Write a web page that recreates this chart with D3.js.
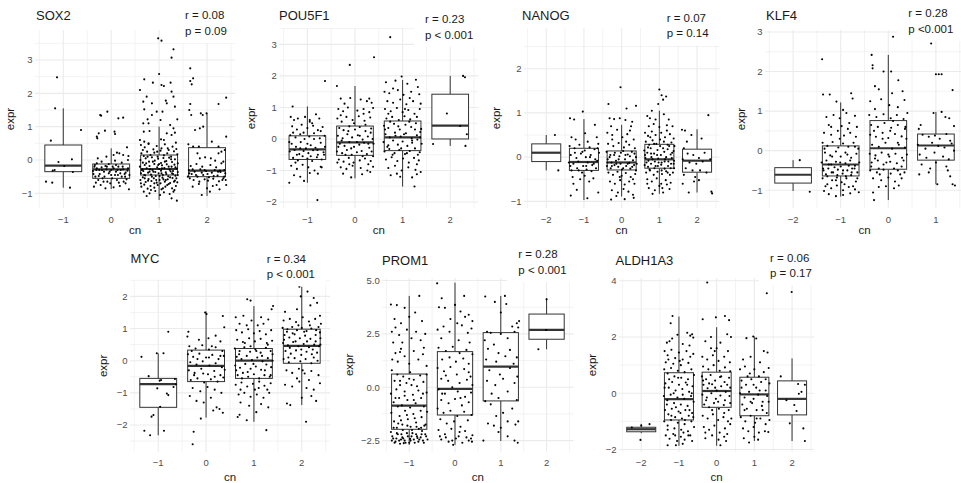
<!DOCTYPE html>
<html>
<head>
<meta charset="utf-8">
<script src="https://cdn.jsdelivr.net/npm/d3@7"></script>
<style>
body{margin:0;background:#fff}
svg{display:block;font-family:"Liberation Sans",Arial,Helvetica,sans-serif}
</style>
</head>
<body>
<svg id="chart" width="961" height="483"></svg>
<script>
// ---- data ----
let genes = ['SOX2','POU5F1','NANOG','KLF4','MYC','PROM1','ALDH1A3'];
let rTexts = ['r = 0.08','r = 0.23','r = 0.07','r = 0.28','r = 0.34','r = 0.28','r = 0.06'];
let pTexts = ['p = 0.09','p < 0.001','p = 0.14','p <0.001','p < 0.001','p < 0.001','p = 0.17'];
let cnLevels = [[-1,0,1,2],[-1,0,1,2],[-2,-1,0,1,2],[-2,-1,0,1],[-1,0,1,2],[-1,0,1,2],[-2,-1,0,1,2]];
let cnLabels = [['−1','0','1','2'],['−1','0','1','2'],['−2','−1','0','1','2'],['−2','−1','0','1'],['−1','0','1','2'],['−1','0','1','2'],['−2','−1','0','1','2']];
let yTickValues = [[-1,0,1,2,3],[-2,-1,0,1,2,3],[-1,0,1,2],[-1,0,1,2,3],[-2,-1,0,1,2],[-2.5,0,2.5,5],[-2,0,2,4]];
let yTickLabels = [['−1','0','1','2','3'],['−2','−1','0','1','2','3'],['−1','0','1','2'],['−1','0','1','2','3'],['−2','−1','0','1','2'],['−2.5','0.0','2.5','5.0'],['−2','0','2','4']];

// boxes: [cn, lower whisker, q1, median, q3, upper whisker]
let sox2Boxes = [[-1,-0.83,-0.35,-0.17,0.45,1.55],[0,-0.87,-0.55,-0.28,-0.12,0.35],[1,-1.2,-0.45,-0.27,0.15,1.0],[2,-1.08,-0.5,-0.32,0.37,1.4]];
let pou5f1Boxes = [[-1,-1.39,-0.65,-0.33,0.1,1.03],[0,-1.25,-0.52,-0.11,0.41,1.68],[1,-1.51,-0.37,0.05,0.57,1.87],[2,-0.22,0.0,0.42,1.42,2.0]];
let nanogBoxes = [[-2,-0.3,-0.1,0.1,0.3,0.5],[-1,-0.97,-0.3,-0.11,0.2,0.86],[0,-0.89,-0.29,-0.12,0.14,0.73],[1,-0.83,-0.25,-0.05,0.29,1.05],[2,-0.8,-0.34,-0.08,0.18,0.63]];
let klf4Boxes = [[-2,-1.02,-0.82,-0.61,-0.43,-0.24],[-1,-1.16,-0.64,-0.35,0.12,1.22],[0,-1.25,-0.47,0.06,0.76,2.42],[1,-0.85,-0.24,0.13,0.42,0.98]];
let mycBoxes = [[-1,-2.32,-1.45,-0.73,-0.55,0.23],[0,-1.77,-0.65,-0.16,0.33,1.53],[1,-1.9,-0.55,0.0,0.38,1.7],[2,-1.38,-0.08,0.46,0.98,2.3]];
let prom1Boxes = [[-1,-2.7,-1.97,-0.86,0.62,4.28],[0,-2.7,-1.3,-0.08,1.67,4.9],[1,-2.52,-0.64,0.97,2.56,4.28],[2,1.78,2.25,2.69,3.43,4.17]];
let aldhBoxes = [[-2,-1.42,-1.37,-1.28,-1.21,-1.09],[-1,-1.87,-0.95,-0.21,0.73,2.73],[0,-1.87,-0.5,0.08,0.75,2.35],[1,-1.7,-0.8,-0.04,0.57,2.02],[2,-1.7,-0.77,-0.2,0.44,1.24]];

// jittered points: [cn + jitter, expr]
let sox2Points = [
[-1.13,2.48],[-1.17,1.55],[-1.26,0.58],[-0.63,0.9],[-1.1,-0.06],[-0.98,-0.18],[-1.22,-0.32],[-0.82,0.02],[-0.8,-0.36],[-1.36,-0.65],[-1.23,-0.68],[-0.86,-0.83],[-1.18,-0.3],
[-0.08,1.45],[-0.23,1.35],[-0.21,1.33],[0.15,1.25],[0.25,1.27],[-0.13,0.88],[-0.26,0.8],[0.07,0.85],[-0.3,0.7],[-0.29,0.65],[0.08,0.78],[0.33,0.38],[0.12,0.22],[0.17,0.2],[0.05,0.15],
[-0.35,-0.2],[-0.3,-0.25],[-0.25,-0.3],[-0.2,-0.22],[-0.15,-0.35],[-0.1,-0.28],[-0.05,-0.4],[0,-0.3],[0.05,-0.25],[0.1,-0.35],[0.15,-0.2],[0.2,-0.3],[0.25,-0.28],[0.3,-0.38],[0.35,-0.25],
[-0.33,-0.5],[-0.27,-0.6],[-0.18,-0.55],[-0.08,-0.65],[0.02,-0.55],[0.12,-0.6],[0.22,-0.5],[0.32,-0.58],
[-0.36,-0.8],[-0.22,-0.75],[-0.12,-0.85],[0.05,-0.82],[0.18,-0.78],[0.3,-0.7],[0.37,-0.88],
[-0.3,-0.1],[-0.2,-0.05],[-0.05,-0.12],[0.08,-0.02],[0.22,-0.08],[0.35,0.0],[-0.28,0.05],[-0.1,0.1],[0.25,0.15],[0.36,0.12],
[-0.38,-0.33],[-0.12,-0.18],[0.0,-0.45],[0.28,-0.42],[-0.24,-0.42],[0.14,-0.45],[-0.02,-0.7],[0.26,-0.65],[-0.32,-0.68],[0.1,-0.15],
[-0.37,-0.42],[-0.31,-0.3],[-0.26,-0.48],[-0.19,-0.3],[-0.14,-0.5],[-0.09,-0.2],[-0.03,-0.35],[0.03,-0.2],[0.08,-0.45],[0.13,-0.3],[0.19,-0.4],[0.24,-0.2],[0.29,-0.5],[0.34,-0.32],[0.38,-0.45],[-0.16,-0.65],[0.16,-0.68],[-0.34,-0.15],
[0.98,3.65],[1.05,3.58],[1.3,3.32],[1.26,3.07],[1.0,2.58],[0.69,2.42],[0.87,2.32],[1.05,2.25],[1.1,2.22],[1.24,2.32],[0.6,2.1],[1.26,2.05],[1.3,1.9],[0.74,1.9],[0.67,1.75],[1.14,1.78],[1.16,1.7],[0.85,1.7],[1.33,1.6],[0.69,1.52],[0.95,1.45],[1.07,1.45],[0.85,1.35],[1.38,1.22],[0.76,1.22],[1.03,1.2],[0.67,1.1],[0.78,1.1],[1.23,1.05],[1.3,0.95],[1.33,0.82],[0.68,0.85],[0.8,0.87],[1.16,0.8],[1.26,0.75],[0.6,0.6],[0.69,0.55],[0.78,0.5],[1.04,0.62],[1.1,0.6],[1.35,0.52],
[0.62,0.45],[0.7,0.38],[0.78,0.48],[0.88,0.32],[0.95,0.42],[1.05,0.35],[1.12,0.47],[1.2,0.3],[1.28,0.4],[1.36,0.33],
[0.63,0.2],[0.68,0.12],[0.75,0.25],[0.82,0.15],[0.9,0.22],[0.97,0.1],[1.03,0.28],[1.1,0.14],[1.17,0.2],[1.25,0.1],[1.31,0.26],[1.38,0.17],
[0.61,0.0],[0.66,-0.08],[0.72,0.05],[0.79,-0.05],[0.85,0.08],[0.91,-0.02],[0.98,0.04],[1.04,-0.09],[1.09,0.06],[1.15,-0.03],[1.21,0.07],[1.27,-0.06],[1.33,0.02],[1.39,-0.1],
[0.6,-0.2],[0.65,-0.28],[0.7,-0.15],[0.74,-0.25],[0.8,-0.18],[0.86,-0.3],[0.9,-0.12],[0.96,-0.22],[1.0,-0.27],[1.06,-0.16],[1.11,-0.24],[1.16,-0.13],[1.22,-0.29],[1.26,-0.2],[1.32,-0.14],[1.37,-0.26],
[0.62,-0.4],[0.67,-0.33],[0.71,-0.46],[0.77,-0.38],[0.83,-0.44],[0.88,-0.35],[0.93,-0.48],[0.99,-0.4],[1.04,-0.32],[1.08,-0.45],[1.14,-0.37],[1.19,-0.49],[1.24,-0.34],[1.29,-0.42],[1.34,-0.47],[1.39,-0.36],
[0.61,-0.6],[0.66,-0.52],[0.72,-0.66],[0.78,-0.57],[0.84,-0.63],[0.89,-0.55],[0.95,-0.68],[1.01,-0.6],[1.07,-0.53],[1.12,-0.65],[1.18,-0.58],[1.23,-0.69],[1.28,-0.54],[1.33,-0.62],[1.38,-0.67],
[0.63,-0.8],[0.69,-0.74],[0.76,-0.86],[0.82,-0.78],[0.9,-0.83],[0.97,-0.75],[1.05,-0.88],[1.13,-0.8],[1.2,-0.72],[1.27,-0.85],[1.35,-0.78],
[0.68,-0.95],[0.8,-1.0],[0.92,-0.93],[1.02,-1.05],[1.1,-0.97],[1.22,-1.02],[1.3,-0.95],[1.37,-1.22],[1.26,-1.15],[0.74,-1.08],
[0.64,-0.3],[0.69,-0.45],[0.73,-0.1],[0.77,-0.62],[0.81,-0.28],[0.85,-0.5],[0.87,-0.05],[0.92,-0.36],[0.94,-0.6],[0.98,-0.15],[1.01,-0.48],[1.03,-0.7],[1.06,-0.25],[1.09,-0.58],[1.12,-0.05],[1.15,-0.42],[1.17,-0.75],[1.2,-0.2],[1.23,-0.52],[1.25,0.02],[1.29,-0.33],[1.31,-0.65],[1.34,-0.22],[1.36,-0.55],[1.39,-0.45],[0.62,-0.7],[0.7,-0.55],[0.76,0.1],[0.83,-0.9],[0.96,0.25],[1.08,-0.85],[1.18,0.35],[1.32,-0.9],[0.66,0.3],[1.0,-0.12],[0.9,-0.7],[1.14,-0.6],[1.27,-0.4],[0.8,-0.35],[1.05,-0.4],
[1.65,2.75],[1.71,2.45],[1.68,2.27],[1.65,2.37],[2.4,1.87],[1.65,1.68],[1.63,1.5],[1.67,1.35],[1.87,1.4],[1.91,1.35],[2.24,1.68],[1.99,1.4],[1.85,0.95],[1.75,0.9],[1.92,1.0],[1.61,0.47],[1.71,0.4],[1.83,0.4],[2.4,0.7],[2.24,0.4],[2.37,0.3],[1.96,0.08],[2.08,0.05],[1.85,0.05],[2.17,-0.02],[2.34,-0.05],[2.24,0.2],
[1.89,-1.05],[2.06,-0.95],[2.2,-0.75],[2.4,-0.75],[2.39,-0.6],
[1.62,-0.3],[1.68,-0.42],[1.74,-0.35],[1.8,-0.5],[1.86,-0.28],[1.92,-0.45],[1.98,-0.33],[2.04,-0.52],[2.1,-0.38],[2.16,-0.3],[2.22,-0.47],[2.28,-0.36],[2.34,-0.55],[2.38,-0.4],
[1.64,-0.55],[1.72,-0.6],[1.84,-0.65],[1.95,-0.58],[2.02,-0.62],[2.13,-0.56],[2.25,-0.64],[2.32,-0.6],
[1.66,-0.18],[1.78,-0.12],[1.9,-0.2],[2.07,-0.15],[2.19,-0.22],[2.3,-0.1],[1.7,-0.8],[1.83,-0.72],[2.0,-0.85],[2.12,-0.78],[2.26,-0.88],[1.6,-0.5],[2.36,-0.3],
[1.63,-0.4],[1.77,-0.45],[1.89,-0.38],[2.01,-0.42],[2.14,-0.48],[2.27,-0.32],[2.36,-0.5],[1.7,-0.28],[1.95,-0.3],[2.23,-0.35],[1.8,0.2],[2.1,0.55],[2.3,0.25]
];

let pou5f1Points = [
[-0.63,1.84],[-1.31,1.03],[-0.79,-1.94],[-1.38,-1.39],[-1.07,-1.33],
[-1.35,0.7],[-1.28,0.6],[-1.2,0.65],[-1.05,0.7],[-0.95,0.6],[-0.82,0.78],[-0.75,0.65],[-0.9,0.5],
[-1.32,0.4],[-1.22,0.3],[-1.12,0.45],[-1.0,0.35],[-0.88,0.42],[-0.78,0.28],[-0.68,0.38],
[-1.36,0.12],[-1.25,0.05],[-1.15,0.15],[-1.06,0.0],[-0.96,0.08],[-0.86,0.18],[-0.74,0.02],[-0.64,0.1],
[-1.33,-0.15],[-1.24,-0.25],[-1.14,-0.1],[-1.03,-0.3],[-0.93,-0.2],[-0.83,-0.28],[-0.72,-0.12],[-0.63,-0.25],
[-1.37,-0.4],[-1.27,-0.35],[-1.17,-0.48],[-1.08,-0.38],[-0.98,-0.45],[-0.88,-0.36],[-0.78,-0.5],[-0.66,-0.42],
[-1.3,-0.6],[-1.2,-0.68],[-1.1,-0.55],[-1.0,-0.62],[-0.9,-0.7],[-0.8,-0.58],[-0.7,-0.65],
[-1.34,-0.85],[-1.22,-0.95],[-1.1,-0.82],[-0.98,-0.9],[-0.85,-1.0],[-0.72,-0.88],
[-1.28,-1.15],[-1.15,-1.2],[-0.95,-1.08],[-0.78,-1.1],
[-1.38,-0.1],[-1.3,0.2],[-1.22,-0.5],[-1.15,-0.3],[-1.08,0.2],[-1.0,-0.15],[-0.93,-0.55],[-0.86,0.0],[-0.79,-0.35],[-0.72,0.25],[-0.65,-0.5],[-1.25,-0.75],[-0.95,0.55],[-0.7,-0.9],
[-0.11,2.35],[0.4,2.59],[-0.38,1.68],[-0.3,1.28],[-0.22,1.12],[-0.1,1.3],[0.12,1.25],[0.25,1.2],[0.35,1.15],[0.3,1.28],
[-0.35,0.95],[-0.25,0.88],[-0.15,1.0],[0.05,0.9],[0.18,0.95],[0.3,0.85],[0.38,0.98],
[-0.37,0.65],[-0.28,0.55],[-0.18,0.7],[-0.05,0.6],[0.08,0.72],[0.2,0.58],[0.32,0.68],
[-0.33,0.35],[-0.24,0.28],[-0.12,0.4],[0.0,0.3],[0.1,0.38],[0.22,0.25],[0.34,0.33],
[-0.36,0.1],[-0.26,0.02],[-0.16,0.15],[-0.06,0.05],[0.06,0.12],[0.16,-0.02],[0.27,0.08],[0.37,0.0],
[-0.32,-0.15],[-0.22,-0.22],[-0.12,-0.1],[-0.02,-0.25],[0.09,-0.18],[0.19,-0.12],[0.3,-0.28],[0.39,-0.15],
[-0.38,-0.4],[-0.27,-0.45],[-0.17,-0.35],[-0.07,-0.5],[0.04,-0.42],[0.14,-0.38],[0.25,-0.48],[0.35,-0.4],
[-0.34,-0.65],[-0.24,-0.72],[-0.13,-0.6],[-0.03,-0.75],[0.1,-0.68],[0.21,-0.62],[0.33,-0.7],
[-0.3,-0.9],[-0.18,-0.95],[-0.05,-0.85],[0.12,-0.92],[0.26,-1.0],[0.38,-0.88],
[-0.25,-1.1],[-0.08,-1.22],[0.15,-1.12],[0.32,-1.05],
[-0.35,-0.25],[-0.28,-0.05],[-0.2,-0.5],[-0.14,0.25],[-0.08,-0.3],[-0.02,0.5],[0.04,-0.1],[0.1,0.1],[0.16,-0.55],[0.22,0.45],[0.28,-0.15],[0.33,0.2],[0.38,-0.55],[-0.3,0.75],[0.18,0.8],[-0.12,-0.8],[0.28,-0.8],[-0.37,-0.75],
[0.74,3.23],[0.98,1.98],[1.28,1.88],[0.65,1.8],[0.85,1.85],[1.1,1.75],[1.32,1.65],
[0.62,1.5],[0.72,1.45],[0.9,1.55],[1.02,1.4],[1.18,1.5],[1.35,1.42],
[0.68,1.2],[0.8,1.15],[0.95,1.25],[1.08,1.1],[1.22,1.2],[1.38,1.12],
[0.63,0.95],[0.75,0.88],[0.88,0.98],[1.0,0.85],[1.12,0.92],[1.25,0.8],[1.36,0.95],
[0.66,0.65],[0.78,0.7],[0.92,0.6],[1.04,0.72],[1.16,0.62],[1.3,0.7],
[0.61,0.42],[0.7,0.35],[0.82,0.48],[0.94,0.3],[1.06,0.45],[1.18,0.38],[1.28,0.5],[1.39,0.32],
[0.64,0.15],[0.73,0.05],[0.84,0.2],[0.96,0.08],[1.07,0.18],[1.19,0.02],[1.3,0.12],[1.37,0.22],
[0.6,-0.1],[0.7,-0.2],[0.8,-0.05],[0.9,-0.18],[1.0,-0.08],[1.1,-0.22],[1.2,-0.12],[1.31,-0.02],[1.4,-0.15],
[0.62,-0.4],[0.72,-0.32],[0.83,-0.45],[0.93,-0.35],[1.05,-0.48],[1.15,-0.38],[1.26,-0.3],[1.36,-0.42],
[0.65,-0.65],[0.77,-0.58],[0.89,-0.7],[1.01,-0.62],[1.13,-0.75],[1.24,-0.6],[1.34,-0.68],
[0.7,-0.92],[0.84,-0.85],[0.98,-1.0],[1.12,-0.9],[1.27,-0.98],[1.38,-1.05],
[0.75,-1.15],[0.95,-1.2],[1.2,-1.22],[1.3,-1.12],[1.25,-1.51],
[0.63,0.3],[0.68,-0.25],[0.74,0.55],[0.79,-0.5],[0.85,0.1],[0.91,0.4],[0.97,-0.3],[1.03,0.15],[1.09,-0.45],[1.14,0.55],[1.2,-0.05],[1.26,0.3],[1.32,-0.5],[1.37,0.05],[0.7,0.8],[1.05,0.95],[1.3,-0.8],[0.88,-1.1],[1.15,1.3],[0.8,1.6],
[2.27,2.0],[2.31,1.96],[1.93,0.81],[2.21,0.41],[2.35,0.15],[1.64,-0.16],[2.32,-0.22]
];

let nanogPoints = [
[-1.77,0.5],[-1.68,-0.3],
[-1.03,1.03],[-1.37,0.88],[-1.26,0.85],[-0.97,0.54],[-0.71,0.73],[-1.33,0.45],[-1.35,-0.87],[-1.19,-0.74],[-0.91,-0.93],[-0.62,-0.8],[-1.28,-0.6],
[-1.38,0.25],[-1.25,0.2],[-1.12,0.28],[-0.98,0.15],[-0.85,0.22],[-0.72,0.18],[-0.62,0.3],
[-1.35,0.05],[-1.2,-0.02],[-1.08,0.08],[-0.95,0.0],[-0.82,0.05],[-0.7,-0.05],[-0.6,0.1],
[-1.4,-0.12],[-1.28,-0.15],[-1.15,-0.1],[-1.02,-0.2],[-0.9,-0.12],[-0.78,-0.18],[-0.65,-0.08],
[-1.33,-0.3],[-1.18,-0.25],[-1.05,-0.35],[-0.93,-0.28],[-0.8,-0.32],[-0.68,-0.25],
[-1.3,-0.45],[-1.1,-0.5],[-0.98,-0.42],[-0.86,-0.55],[-0.75,-0.48],[-1.22,0.4],[-0.9,0.35],[-0.66,0.45],
[-1.36,-0.2],[-1.24,0.1],[-1.14,-0.3],[-1.04,0.12],[-0.94,-0.2],[-0.84,0.0],[-0.74,-0.15],[-0.64,0.2],
[-0.03,1.58],[-0.35,1.2],[0.13,1.1],[0.38,1.16],[-0.32,0.88],[-0.2,0.86],[-0.05,0.88],[0.1,0.84],[0.28,0.8],[0.22,0.6],
[-0.38,0.55],[-0.25,0.5],[-0.12,0.62],[0.02,0.45],[0.15,0.52],[0.32,0.4],
[-0.36,0.3],[-0.22,0.25],[-0.08,0.32],[0.06,0.22],[0.2,0.28],[0.35,0.2],
[-0.4,0.12],[-0.3,0.05],[-0.18,0.1],[-0.06,0.02],[0.04,0.14],[0.16,0.06],[0.27,0.12],[0.38,0.0],
[-0.37,-0.05],[-0.27,-0.12],[-0.15,-0.08],[-0.03,-0.15],[0.09,-0.05],[0.2,-0.13],[0.3,-0.07],[0.4,-0.15],
[-0.39,-0.2],[-0.29,-0.25],[-0.19,-0.18],[-0.09,-0.22],[0.01,-0.28],[0.12,-0.2],[0.23,-0.26],[0.33,-0.18],
[-0.35,-0.35],[-0.23,-0.4],[-0.11,-0.33],[0.0,-0.42],[0.11,-0.36],[0.24,-0.45],[0.36,-0.38],
[-0.31,-0.55],[-0.18,-0.6],[-0.04,-0.52],[0.08,-0.62],[0.2,-0.55],[0.34,-0.6],
[-0.26,-0.75],[-0.1,-0.8],[0.05,-0.72],[0.18,-0.78],[0.3,-0.85],
[-0.28,-0.96],[0.08,-0.95],[0.32,-0.92],[-0.14,-0.88],[0.25,0.7],[-0.28,0.7],
[-0.38,-0.12],[-0.32,0.0],[-0.26,-0.2],[-0.2,0.05],[-0.14,-0.15],[-0.08,-0.05],[-0.02,0.1],[0.04,-0.25],[0.1,0.05],[0.16,-0.15],[0.22,0.02],[0.28,-0.22],[0.34,0.08],[0.38,-0.3],[-0.25,0.4],[0.12,0.35],[-0.05,-0.45],[0.3,-0.5],
[1.0,1.53],[1.06,1.4],[1.1,1.3],[1.18,1.37],[0.97,1.2],[0.8,1.05],[0.68,0.93],[0.75,0.88],[1.12,0.97],[1.25,0.85],[0.72,0.7],[0.85,0.75],[1.0,0.68],[1.2,0.72],[1.35,0.7],
[0.62,0.55],[0.7,0.48],[0.8,0.58],[0.9,0.5],[1.05,0.55],[1.15,0.45],[1.28,0.52],[1.38,0.42],
[0.64,0.35],[0.73,0.28],[0.82,0.38],[0.92,0.3],[1.02,0.25],[1.12,0.35],[1.22,0.28],[1.32,0.33],[1.4,0.25],
[0.6,0.15],[0.68,0.1],[0.77,0.2],[0.86,0.08],[0.95,0.16],[1.04,0.05],[1.13,0.12],[1.22,0.18],[1.3,0.06],[1.38,0.14],
[0.63,-0.02],[0.71,-0.08],[0.79,0.0],[0.88,-0.1],[0.97,-0.03],[1.06,-0.12],[1.15,-0.05],[1.24,-0.1],[1.33,-0.02],[1.39,-0.08],
[0.61,-0.18],[0.7,-0.22],[0.78,-0.15],[0.87,-0.25],[0.96,-0.2],[1.05,-0.17],[1.14,-0.26],[1.23,-0.2],[1.31,-0.15],[1.39,-0.25],
[0.65,-0.35],[0.75,-0.3],[0.85,-0.4],[0.95,-0.33],[1.07,-0.38],[1.18,-0.32],[1.28,-0.4],[1.36,-0.35],
[0.68,-0.5],[0.8,-0.55],[0.93,-0.48],[1.05,-0.6],[1.17,-0.52],[1.3,-0.58],
[0.72,-0.7],[0.88,-0.75],[1.0,-0.65],[1.1,-0.8],[1.27,-0.72],[0.82,-0.83],[1.2,-0.62],
[0.62,0.05],[0.66,-0.12],[0.7,0.22],[0.74,-0.28],[0.78,0.08],[0.82,-0.05],[0.86,0.3],[0.9,-0.2],[0.94,0.05],[0.98,-0.12],[1.02,0.4],[1.06,-0.3],[1.1,0.2],[1.14,-0.1],[1.18,0.0],[1.22,-0.35],[1.26,0.25],[1.3,-0.25],[1.34,0.1],[1.38,-0.15],[0.76,0.45],[1.2,0.6],[0.9,0.85],[1.08,-0.7],[0.68,-0.6],
[1.6,0.62],[1.68,0.6],[2.3,0.95],[1.85,0.5],[2.12,0.42],[1.65,0.2],[1.75,0.08],[1.9,0.05],[2.05,-0.02],[2.2,0.1],[1.62,-0.05],[1.8,-0.12],[1.98,-0.15],[2.15,-0.1],[2.35,-0.05],
[1.7,-0.25],[1.88,-0.3],[2.08,-0.3],[2.25,-0.35],[1.95,-0.45],[1.65,-0.4],[1.92,-0.55],[2.05,-0.52],[1.62,-0.6],[1.78,-0.8],[2.38,-0.78],[2.4,-0.82],[1.73,0.35]
];

let klf4Points = [
[-1.86,-0.24],[-1.65,-1.04],
[-1.39,2.31],[-1.37,1.42],[-1.23,1.42],[-0.78,1.45],[-0.75,1.32],[-1.09,1.24],[-0.95,1.03],
[-1.3,0.85],[-1.15,0.9],[-1.02,0.82],[-0.88,0.95],[-0.7,0.88],[-1.25,0.65],[-0.98,0.62],[-0.82,0.7],[-0.66,0.6],
[-1.35,0.45],[-1.2,0.4],[-1.06,0.5],[-0.93,0.38],[-0.8,0.45],[-0.68,0.35],
[-1.38,0.2],[-1.28,0.12],[-1.17,0.22],[-1.05,0.08],[-0.95,0.18],[-0.84,0.1],[-0.73,0.2],[-0.63,0.05],
[-1.33,-0.05],[-1.22,-0.12],[-1.1,-0.02],[-1.0,-0.15],[-0.9,-0.05],[-0.78,-0.18],[-0.67,-0.08],
[-1.4,-0.3],[-1.3,-0.25],[-1.2,-0.35],[-1.1,-0.28],[-1.0,-0.4],[-0.9,-0.32],[-0.8,-0.25],[-0.7,-0.38],[-0.61,-0.3],
[-1.36,-0.5],[-1.26,-0.45],[-1.16,-0.55],[-1.06,-0.48],[-0.96,-0.58],[-0.86,-0.5],[-0.76,-0.45],[-0.65,-0.55],
[-1.38,-0.7],[-1.28,-0.65],[-1.18,-0.75],[-1.08,-0.68],[-0.98,-0.8],[-0.88,-0.7],[-0.78,-0.62],[-0.68,-0.78],
[-1.32,-0.9],[-1.2,-0.95],[-1.08,-0.88],[-0.95,-1.0],[-0.83,-0.92],[-0.7,-0.98],
[-1.25,-1.1],[-1.1,-1.15],[-0.95,-1.12],[-0.8,-1.08],[-1.35,-1.02],[-0.62,-1.05],
[-1.37,-0.45],[-1.31,-0.6],[-1.25,-0.35],[-1.19,-0.55],[-1.13,-0.42],[-1.07,-0.62],[-1.01,-0.3],[-0.95,-0.5],[-0.89,-0.65],[-0.83,-0.38],[-0.77,-0.55],[-0.71,-0.45],[-0.65,-0.7],[-1.34,0.05],[-1.18,-0.15],[-1.02,0.3],[-0.86,-0.1],[-0.7,0.1],[-1.28,-0.85],[-1.1,-0.75],[-0.92,-0.85],[-0.74,-0.9],[-1.2,0.6],[-0.85,0.55],
[0.1,2.88],[-0.35,2.42],[-0.33,2.16],[-0.33,2.08],[-0.1,2.0],[0.06,2.0],[0.21,1.78],[-0.28,1.63],[-0.2,1.55],[0.3,1.5],[0.08,1.45],
[-0.38,1.25],[-0.15,1.3],[0.34,1.28],[0.02,1.15],[0.2,1.1],[-0.28,1.05],
[-0.4,0.9],[-0.25,0.85],[-0.1,0.92],[0.05,0.82],[0.18,0.9],[0.32,0.8],[0.4,0.95],
[-0.36,0.65],[-0.22,0.6],[-0.08,0.7],[0.06,0.58],[0.2,0.65],[0.35,0.55],
[-0.38,0.4],[-0.26,0.35],[-0.12,0.45],[0.0,0.32],[0.14,0.42],[0.28,0.36],[0.38,0.3],
[-0.34,0.15],[-0.2,0.1],[-0.06,0.2],[0.08,0.05],[0.22,0.15],[0.35,0.08],
[-0.39,-0.08],[-0.27,-0.12],[-0.14,-0.05],[0.02,-0.15],[0.15,-0.08],[0.29,-0.18],[0.39,-0.1],
[-0.35,-0.3],[-0.22,-0.25],[-0.1,-0.35],[0.04,-0.28],[0.18,-0.32],[0.32,-0.25],
[-0.38,-0.5],[-0.24,-0.55],[-0.1,-0.48],[0.05,-0.58],[0.2,-0.5],[0.34,-0.55],
[-0.32,-0.7],[-0.15,-0.75],[0.0,-0.68],[0.14,-0.78],[0.28,-0.7],
[-0.32,-1.06],[-0.3,-1.25],[-0.05,-0.9],[0.12,-0.95],[0.22,-0.88],[-0.2,-0.92],
[-0.36,-0.4],[-0.28,-0.2],[-0.2,-0.45],[-0.12,0.3],[-0.04,-0.3],[0.04,0.5],[0.12,-0.45],[0.2,0.2],[0.28,-0.4],[0.36,0.6],[-0.3,0.5],[0.1,0.75],[-0.18,-0.6],[0.25,-0.6],[0.0,-0.1],
[0.9,2.71],[1.0,1.93],[1.06,1.93],[1.12,1.93],[1.35,1.53],[0.95,0.95],[1.12,0.98],[1.2,0.85],[1.28,0.82],[1.38,0.62],[0.68,0.65],[0.64,0.55],
[0.72,0.4],[0.85,0.35],[0.98,0.38],[1.08,0.3],[1.22,0.42],[1.3,0.25],
[0.62,0.15],[0.78,0.05],[0.92,0.2],[1.05,0.12],[1.18,0.08],[1.33,0.18],[1.38,0.0],
[0.66,-0.1],[0.8,-0.18],[0.97,-0.05],[1.15,-0.15],[1.27,-0.22],
[0.7,-0.35],[0.88,-0.45],[1.0,-0.3],[1.22,-0.4],
[0.65,-0.6],[0.85,-0.55],[1.25,-0.5],[1.3,-0.65],[1.03,-0.85],[1.35,-0.85],[1.4,-0.88]
];

let mycPoints = [
[-0.79,0.9],[-1.35,0.12],[-1.03,0.23],[-0.89,0.23],[-1.2,-0.48],[-0.63,-0.73],[-0.65,-0.57],[-0.94,-0.6],[-1.02,-0.86],[-0.82,-1.02],[-0.79,-1.07],[-0.96,-1.43],[-1.1,-1.69],[-1.14,-1.74],[-1.29,-2.18],[-1.17,-2.32],[-0.88,-2.18],[-0.97,-0.62],[-0.68,-0.82],
[-0.02,1.5],[0.01,1.45],[0.35,1.39],[0.38,1.04],[-0.37,0.9],[-0.39,0.75],[-0.26,-2.21],[-0.28,-2.6],[-0.11,-1.8],[0.15,-1.55],[0.28,-1.5],[0.35,-1.62],[0.22,-1.45],[-0.2,-1.25],
[0.05,0.7],[0.2,0.78],[0.3,0.6],[-0.15,0.65],
[-0.35,0.45],[-0.22,0.38],[-0.08,0.48],[0.06,0.35],[0.2,0.42],[0.34,0.3],
[-0.38,0.2],[-0.27,0.12],[-0.14,0.22],[0.0,0.1],[0.13,0.18],[0.26,0.05],[0.37,0.15],
[-0.33,-0.05],[-0.2,-0.12],[-0.07,-0.02],[0.07,-0.15],[0.2,-0.08],[0.33,-0.2],
[-0.36,-0.3],[-0.24,-0.38],[-0.1,-0.25],[0.04,-0.42],[0.17,-0.32],[0.3,-0.45],[0.39,-0.28],
[-0.32,-0.6],[-0.18,-0.55],[-0.04,-0.68],[0.1,-0.58],[0.24,-0.65],[0.36,-0.52],
[-0.28,-0.85],[-0.12,-0.95],[0.03,-0.82],[0.18,-0.9],[0.32,-1.0],[-0.34,-1.1],[0.1,-1.15],[-0.05,-1.3],
[-0.3,0.3],[-0.18,0.05],[-0.06,-0.4],[0.06,0.1],[0.18,-0.5],[0.3,0.15],[-0.25,-0.45],[0.12,0.45],
[0.86,1.91],[0.93,1.87],[1.4,1.7],[1.37,1.6],[1.26,-2.16],[0.85,-1.85],[0.7,-1.68],[0.66,-1.75],[1.05,-1.6],[1.3,-1.45],
[0.62,1.35],[0.78,1.4],[0.95,1.25],[1.15,1.35],[1.3,1.28],[0.7,1.15],[1.08,1.1],
[0.63,0.95],[0.75,0.88],[0.88,0.98],[1.0,0.85],[1.12,0.92],[1.25,0.82],[1.36,0.95],
[0.65,0.65],[0.77,0.58],[0.9,0.7],[1.02,0.6],[1.14,0.68],[1.27,0.55],[1.38,0.62],
[0.6,0.38],[0.7,0.3],[0.8,0.42],[0.92,0.28],[1.03,0.35],[1.14,0.25],[1.25,0.4],[1.35,0.3],
[0.64,0.12],[0.74,0.05],[0.85,0.15],[0.96,0.02],[1.07,0.1],[1.18,-0.02],[1.29,0.08],[1.39,0.0],
[0.61,-0.15],[0.71,-0.22],[0.82,-0.1],[0.93,-0.25],[1.04,-0.18],[1.15,-0.28],[1.26,-0.12],[1.36,-0.2],
[0.66,-0.45],[0.77,-0.38],[0.88,-0.5],[1.0,-0.42],[1.11,-0.55],[1.22,-0.45],[1.33,-0.5],
[0.62,-0.75],[0.74,-0.68],[0.86,-0.8],[0.98,-0.72],[1.1,-0.85],[1.22,-0.78],[1.35,-0.7],
[0.68,-1.05],[0.8,-1.0],[0.93,-1.12],[1.06,-1.05],[1.2,-1.15],[1.32,-1.0],[0.72,-1.3],[0.9,-1.4],[1.15,-1.35],
[0.63,-0.3],[0.69,0.2],[0.75,-0.55],[0.81,0.55],[0.87,-0.35],[0.93,0.45],[0.99,-0.1],[1.05,0.3],[1.11,-0.65],[1.17,0.15],[1.23,-0.3],[1.29,0.5],[1.35,-0.45],[1.39,0.2],[0.72,-0.9],[1.02,-0.9],[1.28,-0.9],[0.85,1.1],[1.2,1.15],
[1.95,2.3],[2.12,2.15],[2.25,1.95],[2.32,1.8],[1.98,2.0],[1.9,1.6],[2.18,1.72],[1.65,1.52],[2.38,1.4],
[1.62,1.25],[1.75,1.3],[1.88,1.2],[2.02,1.35],[2.15,1.22],[2.28,1.3],[2.4,1.15],
[1.6,1.02],[1.7,0.98],[1.8,1.05],[1.9,0.95],[2.0,1.02],[2.1,0.92],[2.2,1.0],[2.3,0.95],[2.38,0.88],
[1.64,0.8],[1.74,0.72],[1.85,0.82],[1.96,0.7],[2.07,0.78],[2.18,0.68],[2.29,0.8],[2.39,0.7],
[1.61,0.55],[1.71,0.48],[1.82,0.58],[1.93,0.45],[2.04,0.52],[2.15,0.42],[2.26,0.5],[2.36,0.45],
[1.66,0.3],[1.77,0.22],[1.88,0.32],[1.99,0.18],[2.1,0.28],[2.21,0.2],[2.32,0.25],
[1.62,0.05],[1.73,-0.05],[1.85,0.08],[1.97,-0.02],[2.08,0.05],[2.2,-0.08],[2.33,0.0],
[1.68,-0.3],[1.8,-0.38],[1.94,-0.25],[2.06,-0.4],[2.2,-0.32],[2.35,-0.45],
[1.65,-0.75],[1.8,-0.8],[1.95,-0.65],[2.1,-0.85],[2.25,-0.9],[2.38,-0.7],
[1.69,-1.33],[1.76,-1.38],[2.09,-1.9],[2.0,-1.15],[2.2,-1.1],[2.3,-1.25],
[1.63,0.65],[1.69,0.9],[1.75,0.4],[1.81,0.85],[1.87,0.6],[1.93,1.1],[1.99,0.35],[2.05,0.9],[2.11,0.6],[2.17,1.1],[2.23,0.35],[2.29,0.6],[2.35,1.05],[2.39,0.5],[1.72,0.1],[2.02,-0.3],[2.25,0.1],[1.9,-0.55],[2.15,-0.6]
];

let prom1Points = [
[-1.4,3.88],[-1.27,3.85],[-1.1,3.72],[-0.78,4.28],[-1.32,3.2],[-1.18,3.0],[-1.0,3.3],[-0.87,3.5],[-0.72,3.1],
[-1.38,2.6],[-1.3,2.8],[-1.22,2.45],[-1.15,2.1],[-1.05,2.7],[-0.95,2.3],[-0.85,2.6],[-0.75,2.2],[-0.65,2.5],[-1.35,2.1],
[-1.37,1.3],[-1.3,1.6],[-1.25,1.2],[-1.18,1.8],[-1.1,1.45],[-1.0,1.1],[-0.9,1.7],[-0.8,1.3],[-0.7,1.55],[-0.62,1.0],[-1.2,1.65],[-0.68,1.85],
[-1.38,0.8],[-1.32,0.3],[-1.26,0.6],[-1.2,0.1],[-1.13,0.5],[-1.06,0.2],[-0.98,0.7],[-0.9,0.35],[-0.83,0.05],[-0.76,0.55],[-0.69,0.25],[-0.62,0.6],[-1.0,0.4],
[-1.4,-0.3],[-1.34,-0.7],[-1.28,-0.1],[-1.22,-0.5],[-1.16,-0.85],[-1.1,-0.2],[-1.04,-0.6],[-0.98,-0.95],[-0.92,-0.35],[-0.86,-0.75],[-0.8,-0.15],[-0.74,-0.5],[-0.68,-0.9],[-0.62,-0.25],[-1.25,-0.9],
[-1.39,-1.2],[-1.33,-1.6],[-1.27,-1.9],[-1.21,-1.35],[-1.15,-1.75],[-1.09,-1.1],[-1.03,-1.5],[-0.97,-1.85],[-0.91,-1.25],[-0.85,-1.65],[-0.79,-1.95],[-0.73,-1.4],[-0.67,-1.8],[-0.61,-1.15],[-1.18,-1.55],[-0.88,-1.45],
[-1.4,-2.1],[-1.35,-2.4],[-1.3,-2.55],[-1.25,-2.2],[-1.2,-2.65],[-1.15,-2.35],[-1.1,-2.5],[-1.05,-2.15],[-1.0,-2.6],[-0.95,-2.3],[-0.9,-2.45],[-0.85,-2.2],[-0.8,-2.55],[-0.75,-2.35],[-0.7,-2.5],[-0.65,-2.2],[-0.6,-2.45],[-1.28,-2.4],[-1.12,-2.62],[-0.98,-2.42],[-0.82,-2.38],[-1.38,-2.5],[-1.18,-2.45],[-0.72,-2.05],
[-1.37,-2.3],[-1.32,-2.6],[-1.27,-2.15],[-1.22,-2.5],[-1.17,-2.2],[-1.13,-2.4],[-1.08,-2.6],[-1.03,-2.3],[-0.97,-2.5],[-0.93,-2.15],[-0.88,-2.6],[-0.83,-2.3],[-0.78,-2.45],[-0.73,-2.2],[-0.68,-2.6],[-0.63,-2.3],[-1.34,-1.9],[-1.24,-1.7],[-1.14,-2.0],[-1.04,-1.8],[-0.94,-2.0],[-0.84,-1.85],[-0.74,-1.9],[-0.64,-1.75],[-1.3,-0.5],[-1.1,-0.4],[-0.9,-0.6],[-0.7,-0.3],[-1.2,0.3],[-0.95,0.1],[-0.75,-1.1],[-1.05,-1.3],
[-0.39,4.87],[-0.29,4.17],[0.2,4.28],[0.0,3.86],[-0.35,3.75],[-0.22,3.72],[0.3,3.4],[0.38,3.1],[0.12,3.55],[-0.1,3.2],[0.22,3.3],
[-0.38,2.7],[-0.25,2.85],[-0.12,2.6],[0.05,3.0],[0.15,2.9],[0.28,2.55],[0.36,2.75],[-0.3,2.3],[0.08,2.2],[0.32,2.1],
[-0.36,1.85],[-0.2,1.7],[-0.05,1.9],[0.1,1.6],[0.25,1.75],[0.38,1.55],[-0.28,1.3],[-0.12,1.4],[0.02,1.2],[0.18,1.35],[0.3,1.1],
[-0.38,0.9],[-0.24,0.75],[-0.1,0.95],[0.04,0.6],[0.2,0.85],[0.34,0.5],[-0.3,0.4],[-0.15,0.3],[0.1,0.2],[0.26,0.35],[0.38,0.1],
[-0.36,-0.1],[-0.22,-0.3],[-0.06,0.0],[0.06,-0.2],[0.22,-0.45],[0.35,-0.25],[-0.3,-0.6],[-0.14,-0.75],[0.0,-0.55],[0.15,-0.85],[0.3,-0.7],
[-0.38,-1.0],[-0.25,-1.2],[-0.1,-1.1],[0.05,-1.35],[0.2,-1.15],[0.36,-1.3],[-0.32,-1.5],[-0.18,-1.7],[-0.02,-1.6],[0.12,-1.85],[0.28,-1.55],
[-0.36,-2.0],[-0.22,-2.2],[-0.08,-1.95],[0.08,-2.3],[0.22,-2.05],[0.38,-2.25],[-0.3,-2.45],[-0.14,-2.55],[0.02,-2.4],[0.16,-2.6],[0.3,-2.5],[-0.04,-2.7],[0.35,-2.4],
[-0.33,-2.3],[-0.2,-2.35],[-0.06,-2.5],[0.1,-2.1],[0.25,-2.35],[0.37,-2.55],[-0.28,-0.3],[0.12,-0.5],[-0.2,0.55],[0.3,0.7],
[0.66,4.25],[1.09,4.28],[0.87,4.0],[1.12,3.9],[1.35,3.0],[1.4,3.1],[1.25,2.85],[1.0,3.5],
[0.7,2.6],[0.78,2.55],[1.0,2.5],[1.3,2.6],[1.38,2.8],[0.65,2.2],[0.85,2.0],[1.15,2.3],
[0.72,1.8],[0.95,1.6],[1.2,1.75],[1.35,1.4],[0.68,1.3],[0.9,1.2],[1.1,1.45],[1.28,1.1],
[0.75,0.8],[0.98,0.6],[1.2,0.9],[1.36,0.5],[0.7,0.3],[0.88,0.1],[1.05,0.4],[1.3,0.2],
[0.8,-0.3],[0.95,-0.5],[1.15,-0.2],[1.35,-0.6],[0.66,-0.65],[0.78,-0.8],
[1.05,-1.2],[1.25,-1.0],[0.9,-1.35],[1.38,-1.6],[0.72,-1.7],[0.85,-1.8],[1.15,-1.6],[1.0,-1.9],[1.32,-1.75],
[0.62,-2.5],[1.15,-2.3],[1.3,-2.5],[1.37,-2.6],[0.95,-2.1],
[2.0,4.12],[1.99,2.68],[1.82,1.78]
];

let aldhPoints = [
[-2.0,-1.15],[-1.78,-1.1],[-2.25,-1.22],[-2.02,-1.66],
[-1.17,2.75],[-1.22,2.49],[-1.04,2.08],[-0.78,2.15],[-0.7,2.05],[-0.65,2.1],[-0.62,1.98],[-1.32,1.8],[-1.25,1.85],[-0.9,1.75],
[-1.38,1.5],[-1.3,1.35],[-1.2,1.55],[-1.1,1.25],[-1.0,1.45],[-0.9,1.2],[-0.8,1.5],[-0.7,1.3],[-0.62,1.4],[-1.35,1.1],[-1.15,1.05],[-0.95,1.0],[-0.75,1.08],
[-1.39,0.85],[-1.3,0.7],[-1.21,0.9],[-1.12,0.6],[-1.03,0.8],[-0.94,0.55],[-0.85,0.75],[-0.76,0.5],[-0.67,0.85],[-0.6,0.65],
[-1.36,0.35],[-1.27,0.2],[-1.18,0.4],[-1.09,0.1],[-1.0,0.3],[-0.91,0.15],[-0.82,0.38],[-0.73,0.05],[-0.64,0.25],
[-1.4,-0.1],[-1.31,-0.25],[-1.22,-0.05],[-1.13,-0.35],[-1.04,-0.15],[-0.95,-0.4],[-0.86,-0.2],[-0.77,-0.45],[-0.68,-0.1],[-0.61,-0.3],
[-1.37,-0.6],[-1.28,-0.75],[-1.19,-0.55],[-1.1,-0.85],[-1.01,-0.65],[-0.92,-0.9],[-0.83,-0.6],[-0.74,-0.8],[-0.65,-0.7],
[-1.39,-1.0],[-1.3,-1.15],[-1.21,-0.95],[-1.12,-1.25],[-1.03,-1.05],[-0.94,-1.3],[-0.85,-1.1],[-0.76,-1.35],[-0.67,-1.0],[-0.6,-1.2],
[-1.35,-1.5],[-1.25,-1.62],[-1.15,-1.45],[-1.05,-1.7],[-0.95,-1.55],[-0.85,-1.65],[-0.75,-1.5],[-0.65,-1.7],[-1.3,-1.85],[-1.08,-1.85],[-0.9,-1.8],
[-1.38,0.2],[-1.32,-0.4],[-1.26,0.5],[-1.2,-0.8],[-1.14,0.0],[-1.08,-0.5],[-1.02,0.55],[-0.96,-0.7],[-0.9,-0.05],[-0.84,-0.95],[-0.78,0.3],[-0.72,-0.6],[-0.66,0.0],[-0.62,-0.85],[-1.3,-1.3],[-1.1,-1.5],[-0.88,-1.4],[-0.7,-1.5],[-1.28,1.2],[-0.98,1.15],[-0.72,1.7],[-1.18,1.95],
[-0.25,3.94],[-0.37,2.63],[-0.02,2.7],[0.22,2.75],[0.33,2.6],[0.28,2.1],[0.38,2.0],[-0.3,1.85],[-0.15,2.0],[0.0,1.6],[-0.05,1.5],[0.1,1.8],
[-0.38,1.3],[-0.25,1.2],[-0.1,1.35],[0.05,1.15],[0.2,1.3],[0.35,1.1],
[-0.36,0.95],[-0.22,0.85],[-0.08,1.0],[0.08,0.8],[0.22,0.92],[0.36,0.78],
[-0.39,0.6],[-0.28,0.5],[-0.16,0.65],[-0.04,0.45],[0.09,0.58],[0.21,0.4],[0.33,0.55],
[-0.35,0.3],[-0.24,0.18],[-0.12,0.32],[0.0,0.1],[0.12,0.25],[0.24,0.05],[0.36,0.2],
[-0.38,-0.05],[-0.26,-0.15],[-0.14,0.0],[-0.02,-0.2],[0.1,-0.08],[0.22,-0.25],[0.34,-0.1],
[-0.33,-0.4],[-0.2,-0.5],[-0.07,-0.35],[0.06,-0.55],[0.19,-0.42],[0.32,-0.6],
[-0.37,-0.8],[-0.24,-0.9],[-0.1,-0.75],[0.04,-0.95],[0.18,-0.85],[0.3,-1.0],[0.39,-0.9],
[-0.34,-1.2],[-0.2,-1.3],[-0.06,-1.15],[0.08,-1.4],[0.22,-1.25],[0.36,-1.1],
[-0.3,-1.6],[-0.12,-1.5],[0.05,-1.65],[0.2,-1.55],[0.28,-1.45],[0.1,-1.85],
[-0.36,0.45],[-0.28,-0.25],[-0.2,0.35],[-0.12,-0.6],[-0.04,0.2],[0.04,-0.3],[0.12,0.6],[0.2,-0.7],[0.28,0.3],[0.36,-0.35],[-0.3,-1.4],[0.25,-1.7],[-0.15,1.6],[0.3,1.5],
[1.33,3.56],[0.79,1.96],[0.97,2.02],[1.05,1.95],[1.25,1.5],[1.35,1.45],[0.7,1.2],[0.9,1.3],[1.15,1.1],
[0.62,0.85],[0.75,0.95],[0.88,0.7],[1.0,0.85],[1.12,0.6],[1.25,0.75],[1.38,0.9],
[0.66,0.45],[0.78,0.3],[0.92,0.5],[1.05,0.2],[1.18,0.4],[1.3,0.1],[1.4,0.35],
[0.62,0.0],[0.74,-0.15],[0.86,0.05],[0.98,-0.2],[1.1,-0.05],[1.22,-0.3],[1.34,-0.1],
[0.68,-0.4],[0.8,-0.55],[0.94,-0.35],[1.06,-0.6],[1.2,-0.45],[1.33,-0.7],
[0.64,-0.85],[0.76,-1.0],[0.9,-0.8],[1.02,-1.05],[1.16,-0.9],[1.3,-1.1],[1.4,-0.95],
[0.7,-1.25],[0.84,-1.35],[0.98,-1.2],[1.12,-1.4],[1.28,-1.35],[1.37,-1.38],
[0.72,-1.6],[0.86,-1.75],[1.0,-1.55],[1.1,-1.65],
[0.66,0.2],[0.74,-0.6],[0.82,0.6],[0.9,-0.3],[0.98,0.3],[1.06,-0.9],[1.14,0.1],[1.22,-0.6],[1.3,0.5],[1.38,-0.3],
[1.99,3.6],[1.7,0.6],[2.16,0.33],[2.34,0.3],[2.18,-0.02],[2.06,-0.42],[2.12,-0.63],[1.94,-1.07],[2.3,-1.25],[2.34,-1.7],[1.85,-0.25],[2.25,0.05]
];

let boxesByGene = [sox2Boxes, pou5f1Boxes, nanogBoxes, klf4Boxes, mycBoxes, prom1Boxes, aldhBoxes];
let pointsByGene = [sox2Points, pou5f1Points, nanogPoints, klf4Points, mycPoints, prom1Points, aldhPoints];

// ---- layout (pixels) ----
let layout = [
  {l:35,    r:235.3, t:30,  b:208,   xd:[-1.59,2.59], yd:[-1.44,3.9],  titleX:36,    titleY:19.5, annX:185,   annY:19.3,  exprX:13.5,  tickY:222.5, cnY:234},
  {l:279.3, r:478.3, t:28,  b:208,   xd:[-1.59,2.59], yd:[-2.19,3.52], titleX:279,   titleY:19.5, annX:425,   annY:23.3,  exprX:254.5, tickY:222.5, cnY:234},
  {l:524,   r:719.3, t:28,  b:208,   xd:[-2.59,2.59], yd:[-1.15,2.92], titleX:522,   titleY:19.5, annX:666.7, annY:21.7,  exprX:500,   tickY:222.5, cnY:234},
  {l:765,   r:964,   t:30,  b:208,   xd:[-2.59,1.59], yd:[-1.45,3.05], titleX:766,   titleY:19.5, annX:908.3, annY:17.3,  exprX:745,   tickY:222.5, cnY:234},
  {l:130,   r:330,   t:280, b:451.7, xd:[-1.59,2.59], yd:[-2.83,2.51], titleX:130.5, titleY:263,  annX:266.7, annY:262.7, exprX:106.5, tickY:466,   cnY:480.7},
  {l:382.2, r:573.6, t:278, b:451.7, xd:[-1.59,2.59], yd:[-3.02,5.12], titleX:382,   titleY:264.5,annX:518.3, annY:258.3, exprX:352.5, tickY:466,   cnY:480.7},
  {l:619,   r:814.3, t:278, b:452,   xd:[-2.59,2.59], yd:[-2.09,4.1],  titleX:615.5, titleY:264.5,annX:770,   annY:261.7, exprX:595.5, tickY:466,   cnY:480.7}
];

let svg = d3.select('#chart');
let boxWidth = 0.77;
let gridCol = '#ebebeb';
let lineCol = '#333333';

let drawPanel = (i) => {
  let L = layout[i];
  let g = svg.append('g').attr('class','panel');
  let xScale = d3.scaleLinear().domain(L.xd).range([L.l, L.r]);
  let yScale = d3.scaleLinear().domain(L.yd).range([L.b, L.t]);

  // grid: x major on integers, minor on halves
  let xMajor = d3.range(Math.ceil(L.xd[0]), Math.floor(L.xd[1]) + 1);
  let xMinor = d3.range(Math.ceil(L.xd[0] - 0.5), Math.floor(L.xd[1] - 0.5) + 1).map(v => v + 0.5);
  let yt = yTickValues[i];
  let step = yt[1] - yt[0];
  let yMinor = [];
  for (let k = -1; k < yt.length; k++) {
    let v = yt[0] + (k + 0.5) * step;
    if (v > L.yd[0] && v < L.yd[1]) yMinor.push(v);
  }
  let grid = g.append('g');
  grid.selectAll('.ymin').data(yMinor).enter().append('line')
    .attr('x1', L.l).attr('x2', L.r).attr('y1', d => yScale(d)).attr('y2', d => yScale(d))
    .attr('stroke', gridCol).attr('stroke-width', 0.6);
  grid.selectAll('.xmin').data(xMinor).enter().append('line')
    .attr('y1', L.t).attr('y2', L.b).attr('x1', d => xScale(d)).attr('x2', d => xScale(d))
    .attr('stroke', gridCol).attr('stroke-width', 0.6);
  grid.selectAll('.ymaj').data(yt).enter().append('line')
    .attr('x1', L.l).attr('x2', L.r).attr('y1', d => yScale(d)).attr('y2', d => yScale(d))
    .attr('stroke', gridCol).attr('stroke-width', 1.1);
  grid.selectAll('.xmaj').data(xMajor).enter().append('line')
    .attr('y1', L.t).attr('y2', L.b).attr('x1', d => xScale(d)).attr('x2', d => xScale(d))
    .attr('stroke', gridCol).attr('stroke-width', 1.1);

  // boxplots
  let bx = g.append('g');
  let boxes = bx.selectAll('.box').data(boxesByGene[i]).enter().append('g');
  boxes.append('line')
    .attr('x1', d => xScale(d[0])).attr('x2', d => xScale(d[0]))
    .attr('y1', d => yScale(d[5])).attr('y2', d => yScale(d[4]))
    .attr('stroke', lineCol).attr('stroke-width', 1);
  boxes.append('line')
    .attr('x1', d => xScale(d[0])).attr('x2', d => xScale(d[0]))
    .attr('y1', d => yScale(d[2])).attr('y2', d => yScale(d[1]))
    .attr('stroke', lineCol).attr('stroke-width', 1);
  boxes.append('rect')
    .attr('x', d => xScale(d[0] - boxWidth / 2))
    .attr('width', d => xScale(d[0] + boxWidth / 2) - xScale(d[0] - boxWidth / 2))
    .attr('y', d => yScale(d[4]))
    .attr('height', d => yScale(d[2]) - yScale(d[4]))
    .attr('fill', '#fff').attr('stroke', lineCol).attr('stroke-width', 1);
  boxes.append('line')
    .attr('x1', d => xScale(d[0] - boxWidth / 2)).attr('x2', d => xScale(d[0] + boxWidth / 2))
    .attr('y1', d => yScale(d[3])).attr('y2', d => yScale(d[3]))
    .attr('stroke', lineCol).attr('stroke-width', 2.2);

  // jittered points
  g.append('g').selectAll('circle').data(pointsByGene[i]).enter().append('circle')
    .attr('cx', d => xScale(d[0])).attr('cy', d => yScale(d[1]))
    .attr('r', 1.05).attr('fill', '#000');

  // correlation label with white background
  let ann = g.append('g');
  let bg = ann.append('rect').attr('fill', '#fff');
  let t1 = ann.append('text').attr('x', L.annX).attr('y', L.annY)
    .attr('font-size', 11.5).attr('fill', '#1a1a1a').text(rTexts[i]);
  let t2 = ann.append('text').attr('x', L.annX).attr('y', L.annY + 15.6)
    .attr('font-size', 11.5).attr('fill', '#1a1a1a').text(pTexts[i]);
  let w = Math.max(t1.node().getComputedTextLength(), t2.node().getComputedTextLength());
  bg.attr('x', L.annX - 11).attr('y', L.annY - 17).attr('width', w + 22).attr('height', 15.6 + 25);

  // title
  g.append('text').attr('x', L.titleX).attr('y', L.titleY)
    .attr('font-size', 13).attr('fill', '#1a1a1a').text(genes[i]);

  // y tick labels
  g.append('g').selectAll('text').data(yt).enter().append('text')
    .attr('x', L.l - 2.5).attr('y', d => yScale(d)).attr('dy', '0.35em')
    .attr('text-anchor', 'end').attr('font-size', 9.5).attr('fill', '#4d4d4d')
    .text((d, k) => yTickLabels[i][k]);

  // x tick labels
  g.append('g').selectAll('text').data(cnLevels[i]).enter().append('text')
    .attr('x', d => xScale(d)).attr('y', L.tickY)
    .attr('text-anchor', 'middle').attr('font-size', 9.5).attr('fill', '#4d4d4d')
    .text((d, k) => cnLabels[i][k]);

  // axis titles
  g.append('text').attr('x', (L.l + L.r) / 2).attr('y', L.cnY)
    .attr('text-anchor', 'middle').attr('font-size', 11.5).attr('fill', '#1a1a1a').text('cn');
  g.append('text')
    .attr('transform', 'translate(' + L.exprX + ',' + ((L.t + L.b) / 2) + ') rotate(-90)')
    .attr('text-anchor', 'middle').attr('font-size', 11.5).attr('fill', '#1a1a1a').text('expr');
};

genes.forEach((gname, i) => drawPanel(i));
</script>
</body>
</html>
